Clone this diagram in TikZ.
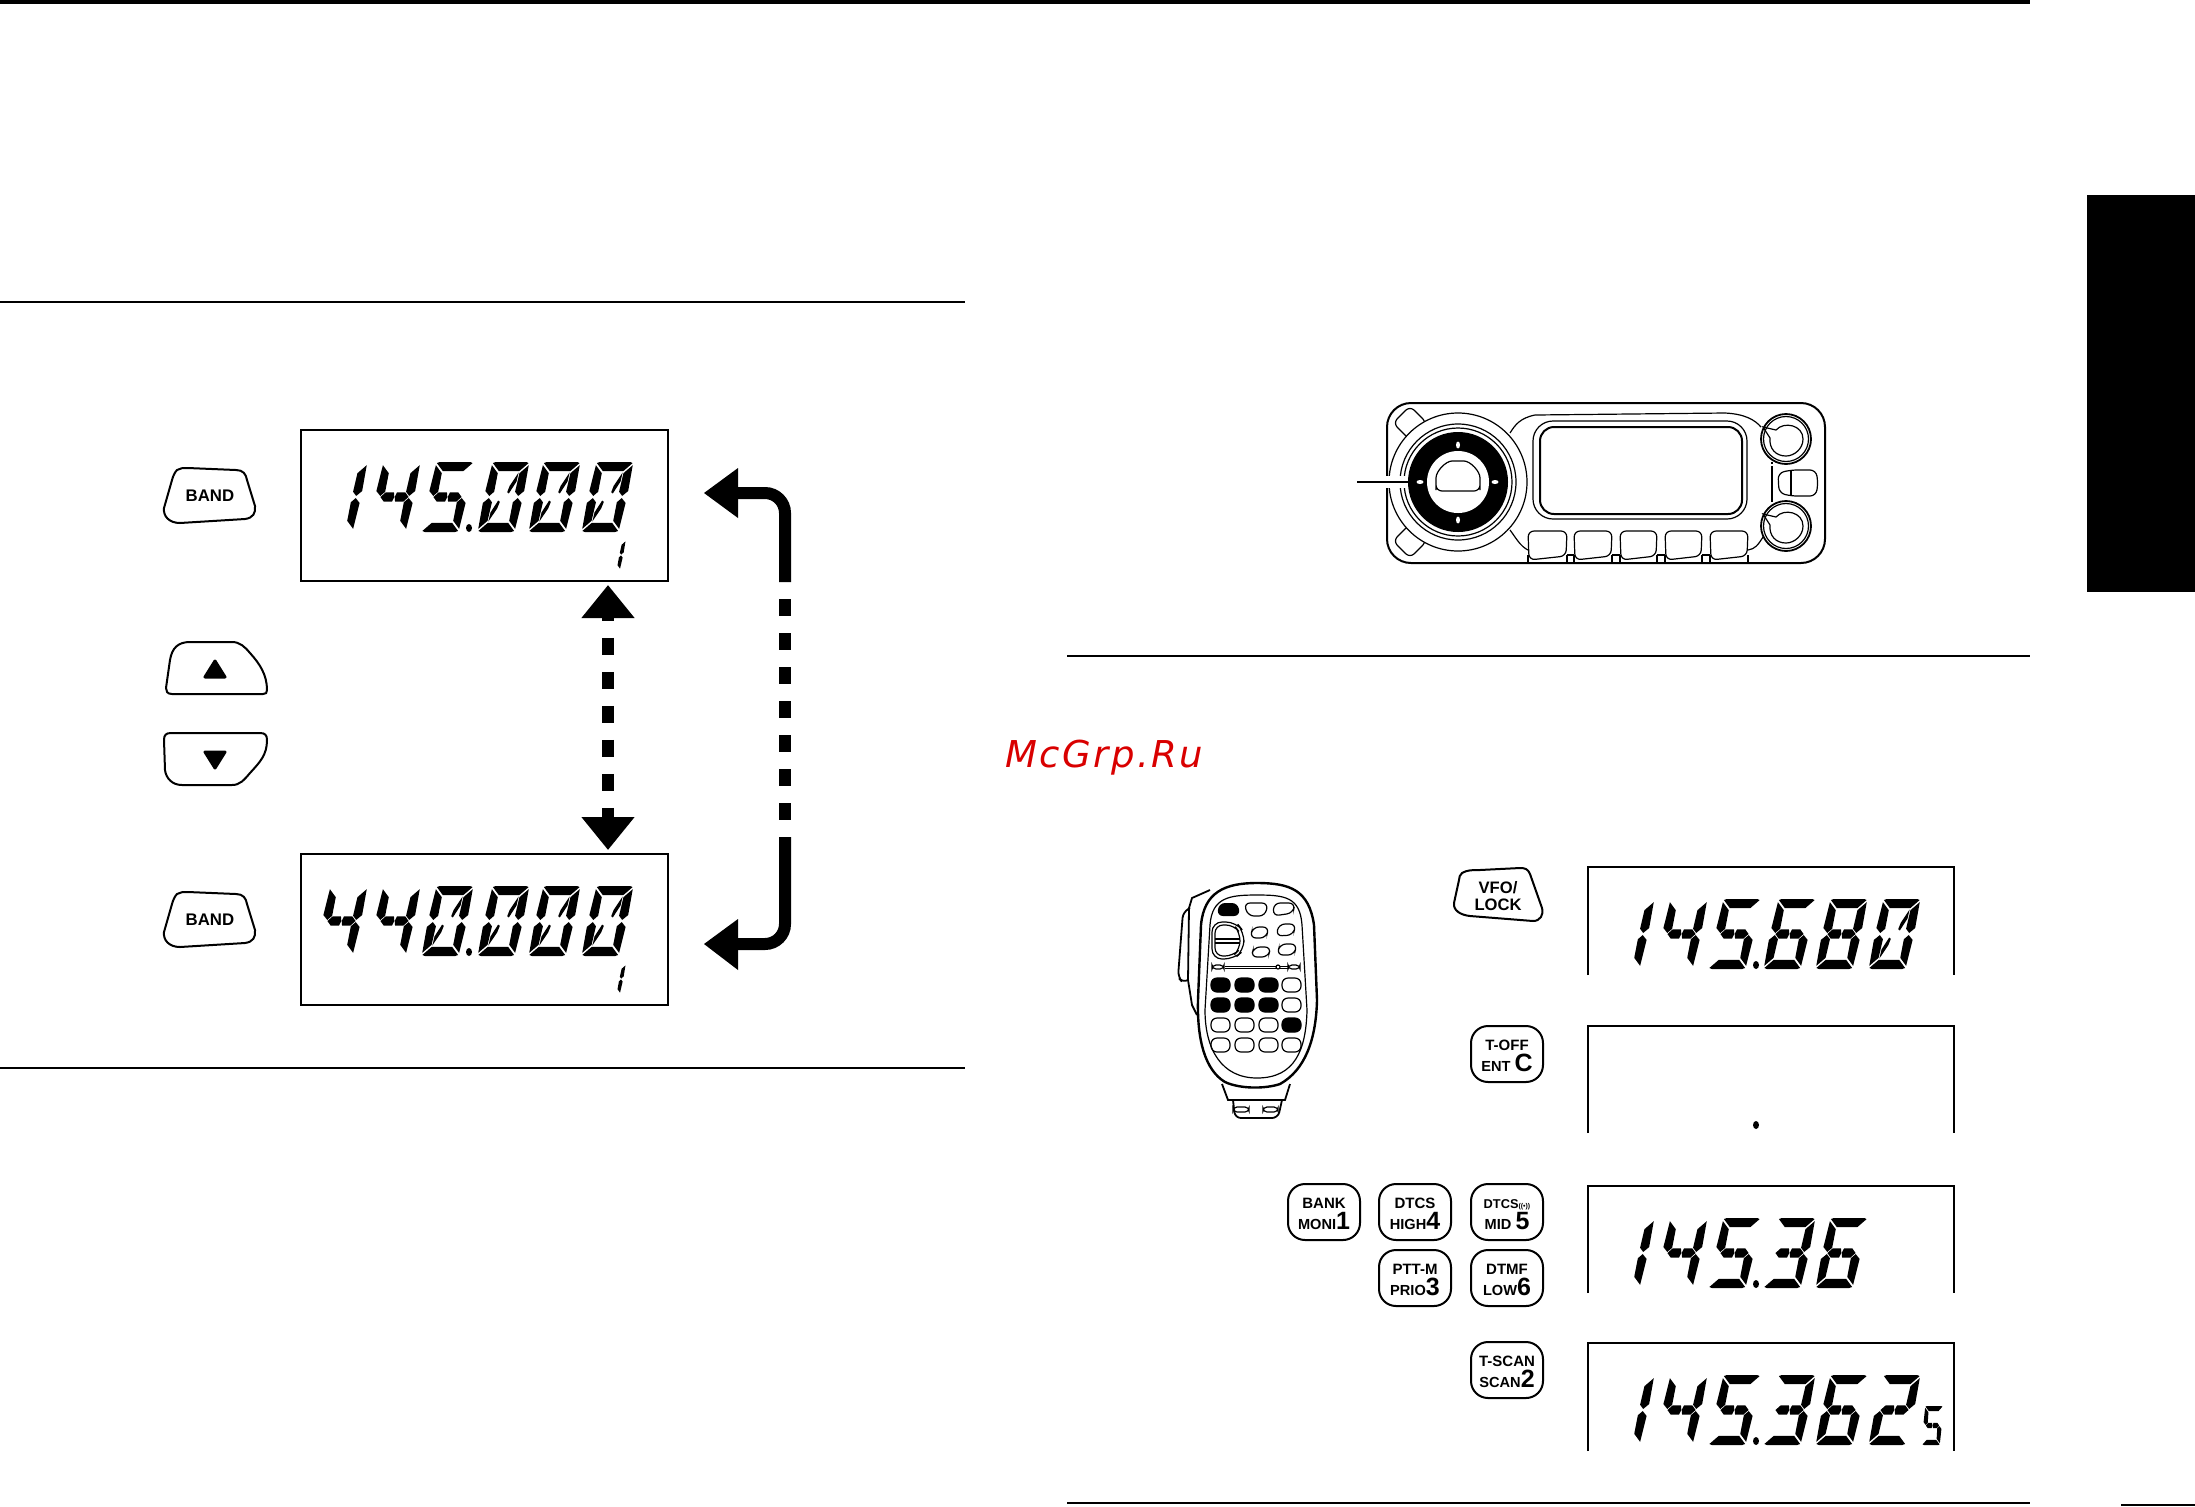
\documentclass[tikz,border=0pt]{standalone}
\usepackage{fontspec}
\setmainfont{Liberation Sans}
\newfontfamily\wmfont[LetterSpace=6.5]{DejaVu Sans}
\usetikzlibrary{arrows.meta,calc}
\setlength{\lineskiplimit}{-100pt}
\newcommand\kfa{\bfseries\fontsize{7.5}{10.5}\selectfont}
\newcommand\kfb{\bfseries\fontsize{7.3}{10.5}\selectfont}
\newcommand\kfc{\bfseries\fontsize{12.5}{10.5}\selectfont}
\newcommand\kfd{\bfseries\fontsize{6.4}{10.5}\selectfont}
\newcommand\kup{\rule{0pt}{7pt}}
% LCD segments, unit cell
\newcommand\sA{\fill (0.1,1)--(0.9,1)--(0.97,0.985)--(0.77,0.87)--(0.23,0.87)--(0.03,0.985)--cycle;}
\newcommand\sD{\fill (0.1,0)--(0.9,0)--(0.97,0.015)--(0.77,0.13)--(0.23,0.13)--(0.03,0.015)--cycle;}
\newcommand\sF{\fill (0.015,0.955)--(0.215,0.84)--(0.225,0.575)--(0.12,0.515)--(-0.01,0.585)--cycle;}
\newcommand\sB{\fill (0.985,0.955)--(0.785,0.84)--(0.775,0.575)--(0.88,0.515)--(1.01,0.585)--cycle;}
\newcommand\sE{\fill (0.015,0.045)--(0.215,0.16)--(0.225,0.425)--(0.12,0.485)--(-0.01,0.415)--cycle;}
\newcommand\sC{\fill (0.985,0.045)--(0.785,0.16)--(0.775,0.425)--(0.88,0.485)--(1.01,0.415)--cycle;}
\newcommand\sG{\fill (0.13,0.5)--(0.24,0.565)--(0.46,0.565)--(0.495,0.5)--(0.46,0.435)--(0.24,0.435)--cycle;
 \fill (0.87,0.5)--(0.76,0.565)--(0.54,0.565)--(0.505,0.5)--(0.54,0.435)--(0.76,0.435)--cycle;}
\newcommand\sJ{\fill (0.76,0.85)--(0.755,0.72)--(0.62,0.55)--(0.57,0.57)--(0.6,0.66)--cycle;}
\newcommand\sK{\fill (0.24,0.15)--(0.245,0.28)--(0.38,0.45)--(0.43,0.43)--(0.4,0.34)--cycle;}
\expandafter\def\csname lcd0\endcsname{\sA\sB\sC\sD\sE\sF\sJ\sK}
\expandafter\def\csname lcd1\endcsname{\sB\sC}
\expandafter\def\csname lcd2\endcsname{\sA\sB\sG\sE\sD}
\expandafter\def\csname lcd3\endcsname{\sA\sB\sG\sC\sD}
\expandafter\def\csname lcd4\endcsname{\sF\sG\sB\sC}
\expandafter\def\csname lcd5\endcsname{\sA\sF\sG\sC\sD}
\expandafter\def\csname lcd6\endcsname{\sA\sF\sG\sC\sD\sE}
\expandafter\def\csname lcd8\endcsname{\sA\sB\sC\sD\sE\sF\sG}
\newcommand\lcdg[6]{\begin{scope}[shift={(#1,#2)},x={(#4,0pt)},y={(#5,#6)}]\csname lcd#3\endcsname\end{scope}}
\newcommand\lcdrow[3]{\foreach \g/\dx in {#3}{\lcdg{#1+\dx}{#2}{\g}{19pt}{7.5pt}{35pt}}}
\newcommand\lcddot[2]{\fill (#1+154,#2-4) ellipse[x radius=3,y radius=4];}
\tikzset{
 x=0.5pt,y=-0.5pt,
 rule/.style={line width=1pt},
 lcdbox/.style={draw,line width=1.1pt,minimum width=183.5pt,minimum height=75.5pt,inner sep=0pt,outer sep=0pt},
 lcdopen/.style={line width=1.1pt},
 key/.style={draw,line width=1pt,rounded corners=8.5pt,minimum width=36pt,minimum height=28pt,inner sep=0pt,align=center,font=\kfa},
 btn/.style={draw,line width=1pt,line join=round},
 thin1/.style={line width=0.6pt},
 med1/.style={line width=0.9pt},
 hook/.style={line width=6pt,rounded corners=10pt},
 lbl/.style={inner sep=0pt,font=\bfseries\fontsize{8.4}{10}\selectfont,align=center},
}
\begin{document}
\begin{tikzpicture}
\useasboundingbox (0,0) rectangle (2195,1506);
\fill[white] (0,0) rectangle (2195,1506);
% rules and tab
\fill (0,0) rectangle (2030,4);
\draw[rule] (0,302) -- (965,302);
\draw[rule] (0,1068) -- (965,1068);
\draw[rule] (1067,656) -- (2030,656);
\draw[rule] (1067,1503) -- (2030,1503);
\draw[rule] (2121,1505) -- (2195,1505);
\fill (2087,195) rectangle (2195,592);
% watermark
\node[anchor=base west,inner sep=0pt,text=red!85!black,font=\wmfont\itshape\fontsize{18.5}{20}\selectfont] (wm) at (1005,767) {McGrp.Ru};
% left LCDs
\node[lcdbox] (lcdA) at (484.5,505.5) {};
\node[lcdbox] (lcdB) at (484.5,929.5) {};
\lcdrow{315}{532}{1/0,4/53,5/106,0/162,0/213,0/266}
\lcddot{315}{532}
\lcdg{604}{570}{1}{8pt}{3pt}{15pt}
\lcdrow{315}{956}{4/0,4/53,0/106,0/162,0/213,0/266}
\lcddot{315}{956}
\lcdg{604}{994}{1}{8pt}{3pt}{15pt}
% left buttons
\draw[btn] (177,470) .. controls (180,468) and (183,468) .. (188,468) -- (236,470) .. controls (243,470) and (246,474) .. (247,480) -- (255,506) .. controls (256,513) and (253,518) .. (245,519) -- (180,523) .. controls (169,523) and (163,516) .. (164,508) -- (172,480) .. controls (173,476) and (175,472) .. (177,470) -- cycle;
\node[lbl] (bandA) at (210,496) {BAND};
\draw[btn] (177,894) .. controls (180,892) and (183,892) .. (188,892) -- (236,894) .. controls (243,894) and (246,898) .. (247,904) -- (255,930) .. controls (256,937) and (253,942) .. (245,943) -- (180,947) .. controls (169,947) and (163,940) .. (164,932) -- (172,904) .. controls (173,900) and (175,896) .. (177,894) -- cycle;
\node[lbl] (bandB) at (210,920) {BAND};
\draw[btn] (172,694) .. controls (167,694) and (166,691) .. (166,688) -- (170,660) .. controls (172,648) and (178,642) .. (190,642) -- (232,642) .. controls (240,642) and (245,647) .. (250,653) .. controls (260,664) and (267,675) .. (267,690) .. controls (267,693) and (266,694) .. (263,694) -- cycle;
\fill[line join=round,draw,line width=1.5pt] (215,661) -- (225,677) -- (205,677) -- cycle;
\draw[btn] (171,733) -- (260,733) .. controls (265,733) and (267,735) .. (267,740) .. controls (267,755) and (260,762) .. (250,773) .. controls (244,780) and (240,785) .. (232,785) -- (182,785) .. controls (172,785) and (166,778) .. (165,770) -- (164,740) .. controls (164,735) and (166,733) .. (171,733) -- cycle;
\fill[line join=round,draw,line width=1.5pt] (215,768) -- (225,752) -- (205,752) -- cycle;
% vertical double arrow
\coordinate (dblA) at (608,585);
\coordinate (dblB) at (608,850);
\draw[line width=6pt,{Triangle[length=16.5pt,width=25.5pt]}-{Triangle[length=16.5pt,width=25.5pt]},dash pattern=on 8.5pt off 8.5pt,dash phase=6pt] (dblA) -- (dblB);
% right hooked arrow
\coordinate (hookA) at (704,493);
\coordinate (hookB) at (785,493);
\coordinate (hookC) at (785,582);
\coordinate (hookD) at (785,837);
\coordinate (hookE) at (785,944);
\coordinate (hookF) at (704,944);
\draw[hook] (hookC) -- (hookB) -- (735,493);
\draw[hook] (hookD) -- (hookE) -- (735,944);
\fill (hookA) -- (738,468) -- (738,518) -- cycle;
\fill (hookF) -- (738,919) -- (738,970) -- cycle;
\draw[line width=6pt,dash pattern=on 8.5pt off 8.5pt,dash phase=8.5pt] (hookC) -- (hookD);
% radio front panel
\draw[line width=1pt,rounded corners=12pt] (1387,403) rectangle (1825,563);
\draw[thin1] (1510,433) .. controls (1515,425) and (1520,418) .. (1535,415) -- (1725,413) .. controls (1745,414) and (1755,420) .. (1761,427);
\draw[thin1] (1510,530) .. controls (1516,538) and (1520,546) .. (1528,550);
\draw[thin1] (1748,550) .. controls (1755,549) and (1758,545) .. (1763,537);
\draw[thin1,rounded corners=10pt] (1533,421) rectangle (1747,519);
\draw[line width=1pt,rounded corners=7pt] (1540,427) rectangle (1742,514);
\foreach \xa/\xb in {1528/1567,1574/1612,1620/1657,1665/1702,1710/1748}{
 \draw[thin1,fill=white,rounded corners=3pt] (\xa,531) -- (\xb,531) -- (\xb-1,556) -- (\xa+1,560) -- cycle;
 \draw[thin1] (\xa,555) -- (\xa,563) (\xb,555) -- (\xb,563);
}
\foreach \xa/\xb in {1567/1574,1612/1620,1657/1665,1702/1710}{\draw[thin1] (\xa,555) -- (\xb,555);}
\foreach \yy in {423,541}{
 \draw[thin1,rounded corners=3pt,fill=white] (1410,\yy-17) -- (1427,\yy) -- (1410,\yy+17) -- (1393,\yy) -- cycle;
}
\draw[thin1,fill=white] (1458,482) circle[radius=69];
\draw[thin1] (1458,482) circle[radius=58];
\draw[thin1] (1458,482) circle[radius=54];
\fill (1458,482) circle[radius=50];
\fill[white] (1458,482) circle[radius=31];
\draw[thin1,rounded corners=3pt] (1436,491) -- (1480,491) -- (1480,484) .. controls (1480,471) and (1470,461) .. (1458,461) .. controls (1446,461) and (1436,471) .. (1436,484) -- cycle;
\foreach \px/\py/\rx/\ry in {1458/445/2/3.5,1458/520/2/3.5,1420/482/3.5/2,1495/482/3.5/2}{
 \fill[white] (\px,\py) ellipse[x radius=\rx,y radius=\ry];
}
\coordinate (leadA) at (1357,482);
\coordinate (leadB) at (1408,482);
\draw[white,line width=6pt] (1382,482) -- (leadB);
\draw[thin1] (leadA) -- (leadB);
\foreach \yy in {439,526}{
 \draw[med1,fill=white] (1786,\yy) circle[radius=25];
 \draw[thin1] (1786,\yy) circle[radius=22.5];
 \draw[thin1] (1776,\yy-9) .. controls (1784,\yy-18) and (1803,\yy-14) .. (1803,\yy) .. controls (1803,\yy+10) and (1794,\yy+17) .. (1786,\yy+17) .. controls (1776,\yy+17) and (1769,\yy+10) .. (1770,\yy-1) -- (1763,\yy-12) -- cycle;
}
\draw[thin1] (1772,462) -- (1772,464) (1772,466) -- (1772,502);
\draw[thin1,rounded corners=3pt] (1778,473) -- (1791,470) -- (1816,470) -- (1818,483) -- (1816,496) -- (1791,496) -- (1779,493) -- cycle;
\draw[thin1] (1791,470) -- (1791,496);
% microphone
\draw[med1] (1210,890) -- (1192,898) -- (1189,908) -- (1188,980) -- (1192,1005) -- (1197,1015);
\draw[med1,rounded corners=3pt] (1190,908) -- (1183,912) -- (1178,977) -- (1183,983) -- (1188,980);
\draw[line width=1.2pt,fill=white] (1257,883) .. controls (1290,883) and (1309,890) .. (1314,925) -- (1317,1000) .. controls (1316,1040) and (1305,1070) .. (1280,1084) .. controls (1265,1089) and (1240,1089) .. (1225,1082) .. controls (1205,1070) and (1197,1040) .. (1198,1000) -- (1201,925) .. controls (1204,892) and (1225,883) .. (1257,883) -- cycle;
\draw[thin1] (1257,895) .. controls (1285,895) and (1300,897) .. (1302,925) -- (1307,1010) .. controls (1306,1050) and (1295,1078) .. (1257,1078) .. controls (1222,1078) and (1205,1050) .. (1205,1010) -- (1210,925) .. controls (1212,897) and (1230,895) .. (1257,895) -- cycle;
\draw[med1] (1222,1084) -- (1228,1100) -- (1285,1100) -- (1290,1084);
\draw[med1,rounded corners=3pt] (1233,1100) -- (1235,1118) -- (1278,1118) -- (1282,1100);
\draw[thin1,rounded corners=2pt] (1233,1107) rectangle (1249,1112);
\draw[thin1,rounded corners=2pt] (1263,1107) rectangle (1278,1112);
\fill[rounded corners=3pt] (1219,903) -- (1238,903) -- (1240,916) -- (1217,916) -- cycle;
\draw[thin1,rounded corners=3pt] (1244,903) -- (1268,903) -- (1265,916) -- (1248,916) -- cycle;
\draw[thin1,rounded corners=3pt] (1274,903) -- (1295,903) -- (1293,913) -- (1273,916) -- cycle;
\draw[thin1,rounded corners=3pt] (1253,927) -- (1269,927) -- (1266,938) -- (1250,938) -- cycle;
\draw[thin1,rounded corners=3pt] (1279,924) -- (1296,924) -- (1293,935) -- (1276,936) -- cycle;
\draw[thin1,rounded corners=3pt] (1254,947) -- (1271,947) -- (1268,957) -- (1251,957) -- cycle;
\draw[thin1,rounded corners=3pt] (1280,944) -- (1297,944) -- (1294,955) -- (1277,955) -- cycle;
\draw[thin1,rounded corners=5pt] (1212,922) -- (1236,922) -- (1244,932) -- (1244,950) -- (1234,959) -- (1212,959) -- cycle;
\draw[thin1,rounded corners=4pt] (1215,925) -- (1234,925) -- (1240,933) -- (1240,949) -- (1233,956) -- (1215,956) -- cycle;
\draw[thin1] (1215,939) -- (1240,939) (1215,943) -- (1240,943);
\draw[thin1,rounded corners=2pt] (1212,965) rectangle (1224,969);
\draw[thin1,rounded corners=2pt] (1288,965) rectangle (1300,969);
\draw[line width=0.4pt] (1225,966) -- (1288,966) (1225,968) -- (1288,968);
\draw[thin1,fill=white] (1278,967) circle[radius=2];
\foreach \xa/\xb in {1211/1230,1235/1254,1259/1278,1282/1301}{
 \foreach \ya/\yb in {978/992,998/1012,1018/1032,1038/1052}{
  \draw[thin1,rounded corners=3pt] (\xa,\ya) rectangle (\xb,\yb);
 }
}
\foreach \xa/\xb/\ya/\yb in {1211/1230/978/992,1235/1254/978/992,1259/1278/978/992,1211/1230/998/1012,1235/1254/998/1012,1259/1278/998/1012,1282/1301/1018/1032}{
 \fill[rounded corners=3pt] (\xa,\ya) rectangle (\xb,\yb);
}
% keys on the right
\draw[btn] (1462,873) .. controls (1467,870) and (1472,870) .. (1480,870) -- (1520,868) .. controls (1525,868) and (1528,869) .. (1530,874) -- (1542,908) .. controls (1544,915) and (1540,921) .. (1533,921) -- (1470,916) .. controls (1460,915) and (1453,910) .. (1454,903) -- (1459,880) .. controls (1459,877) and (1460,875) .. (1462,873) -- cycle;
\node[inner sep=0pt,align=center,font=\bfseries\fontsize{8.3}{8.3}\selectfont] (vfo) at (1498,896) {VFO/\\LOCK};
\node[key] (toff) at (1507,1054) {\kup T-OFF\\{\kfb ENT} {\kfc C}};
\node[key] (k1) at (1324,1212) {\kup BANK\\{\kfb MONI}{\kfc 1}};
\node[key] (k4) at (1415,1212) {\kup DTCS\\{\kfb HIGH}{\kfc 4}};
\node[key] (k5) at (1507,1212) {\kup{\kfd DTCS}{\bfseries\fontsize{3.5}{4}\selectfont((•))}\\{\kfb MID}\ {\kfc 5}};
\node[key] (k3) at (1415,1278) {\kup PTT-M\\{\kfb PRIO}{\kfc 3}};
\node[key] (k6) at (1507,1278) {\kup DTMF\\{\kfb LOW}{\kfc 6}};
\node[key] (k2) at (1507,1370) {\kup T-SCAN\\{\kfb SCAN}{\kfc 2}};
% right LCDs
\draw[lcdopen] (1588,975) |- (1954,867) -- (1954,975);
\draw[lcdopen] (1588,1133) |- (1954,1026) -- (1954,1133);
\draw[lcdopen] (1588,1293) |- (1954,1186) -- (1954,1293);
\draw[lcdopen] (1588,1451) |- (1954,1343) -- (1954,1451);
\lcdrow{1602}{969}{1/0,4/53,5/106,6/161,8/213,0/266}
\lcddot{1602}{969}
\lcddot{1602}{1129}
\lcdrow{1602}{1288}{1/0,4/53,5/106,3/161,6/213}
\lcddot{1602}{1288}
\lcdrow{1602}{1445}{1/0,4/53,5/106,3/161,6/213,2/266}
\lcddot{1602}{1445}
\lcdg{1922}{1445}{5}{9pt}{1.5pt}{19.5pt}
\end{tikzpicture}
\end{document}
